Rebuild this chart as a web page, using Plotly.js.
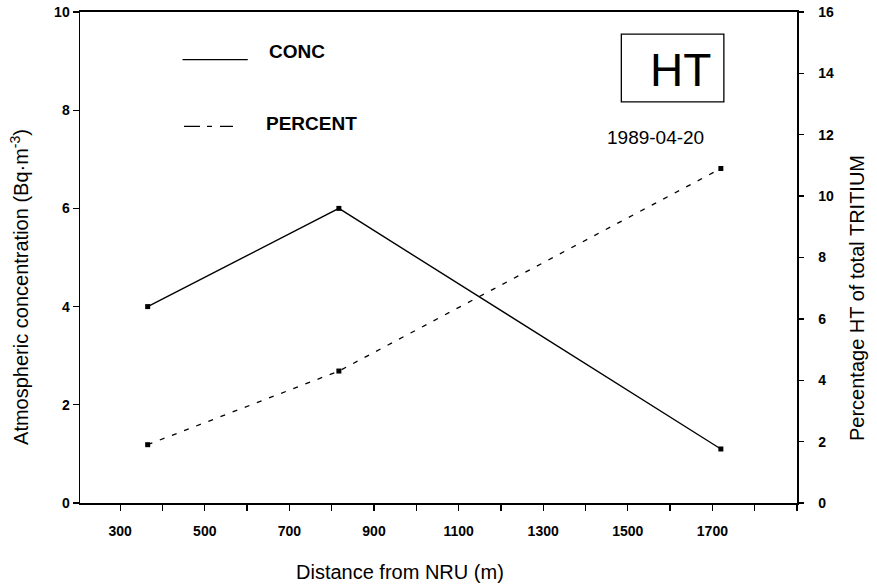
<!DOCTYPE html>
<html>
<head>
<meta charset="utf-8">
<script src="https://cdn.plot.ly/plotly-3.0.1.min.js"></script>
<style>
  html, body { margin: 0; padding: 0; background: #fff; }
  #chart { width: 877px; height: 587px; }
</style>
</head>
<body>
<div id="chart"></div>
<script>
// Sampling distances from NRU (m)
const distance = [365, 817, 1720];
// HT atmospheric concentration (Bq·m-3)
const conc = [4.0, 6.0, 1.1];
// HT as a percentage of total tritium
const percent = [1.9, 4.3, 10.9];

const xTicks = [300, 500, 700, 900, 1100, 1300, 1500, 1700];
const yTicks = [0, 2, 4, 6, 8, 10];
const y2Ticks = [0, 2, 4, 6, 8, 10, 12, 14, 16];

const bold = vals => vals.map(v => '<b>' + v + '</b>');
const font = 'Liberation Sans, Arial, Helvetica, sans-serif';

const traces = [
  {
    x: distance, y: conc, name: 'CONC', type: 'scatter', mode: 'lines+markers',
    line: { color: '#000', width: 1.4 },
    marker: { symbol: 'square', size: 5, color: '#000' },
    yaxis: 'y'
  },
  {
    x: distance, y: percent, name: 'PERCENT', type: 'scatter', mode: 'lines+markers',
    line: { color: '#000', width: 1.3, dash: '5px,8px' },
    marker: { symbol: 'square', size: 5, color: '#000' },
    yaxis: 'y2'
  }
];

const layout = {
  width: 877, height: 587,
  margin: { l: 80, r: 80, t: 12, b: 84 },
  paper_bgcolor: '#fff', plot_bgcolor: '#fff',
  showlegend: false,
  font: { family: font, color: '#000' },
  xaxis: {
    range: [205, 1900],
    tickvals: xTicks, ticktext: bold(xTicks),
    ticks: 'outside', ticklen: 6, tickwidth: 1.3, tickcolor: '#000',
    minor: { tick0: 300, dtick: 100, ticks: 'outside', ticklen: 6, tickwidth: 1.3, tickcolor: '#000', showgrid: false },
    ticklabelstandoff: 8,
    tickfont: { size: 14, family: font },
    showline: true, linecolor: '#000', linewidth: 2, mirror: true,
    showgrid: false, zeroline: false
  },
  yaxis: {
    range: [0, 10],
    tickvals: yTicks, ticktext: bold(yTicks),
    ticks: 'outside', ticklen: 6, tickwidth: 1.3, tickcolor: '#000',
    tickfont: { size: 14, family: font },
    showline: true, linecolor: '#000', linewidth: 1.5,
    showgrid: false, zeroline: false
  },
  yaxis2: {
    range: [0, 16], overlaying: 'y', side: 'right',
    tickvals: y2Ticks, ticktext: bold(y2Ticks),
    ticks: 'outside', ticklen: 5, tickwidth: 1.3, tickcolor: '#000',
    ticklabelstandoff: 12,
    tickfont: { size: 14, family: font },
    showline: true, linecolor: '#000', linewidth: 1.5,
    showgrid: false, zeroline: false
  },
  shapes: [
    // key samples
    { type: 'line', xref: 'paper', yref: 'paper', x0: 0.143, x1: 0.234, y0: 0.903, y1: 0.903,
      line: { color: '#000', width: 1.4 } },
    { type: 'line', xref: 'paper', yref: 'paper', x0: 0.145, x1: 0.216, y0: 0.767, y1: 0.767,
      line: { color: '#000', width: 1.3, dash: '16px,7px,5px,8px,13px,40px' } },
    // label frame
    { type: 'rect', xref: 'paper', yref: 'paper', x0: 0.755, x1: 0.898, y0: 0.817, y1: 0.955,
      line: { color: '#000', width: 1.3 } }
  ],
  annotations: [
    // axis titles
    { xref: 'paper', yref: 'paper', x: 0.446, y: -0.1405, xanchor: 'center', yanchor: 'middle',
      text: 'Distance from NRU (m)', showarrow: false, font: { size: 20, family: font } },
    { xref: 'paper', yref: 'paper', x: -0.0837, y: 0.44, xanchor: 'center', yanchor: 'middle',
      textangle: -90, text: 'Atmospheric concentration (Bq·m<sup>-3</sup>)', showarrow: false,
      font: { size: 20, family: font } },
    { xref: 'paper', yref: 'paper', x: 1.0837, y: 0.4175, xanchor: 'center', yanchor: 'middle',
      textangle: -90, text: 'Percentage HT of total TRITIUM', showarrow: false,
      font: { size: 20, family: font } },
    // key labels
    { xref: 'paper', yref: 'paper', x: 0.261, y: 0.919, xanchor: 'left', yanchor: 'middle',
      text: '<b>CONC</b>', showarrow: false, font: { size: 19, family: font } },
    { xref: 'paper', yref: 'paper', x: 0.257, y: 0.772, xanchor: 'left', yanchor: 'middle',
      text: '<b>PERCENT</b>', showarrow: false, font: { size: 19, family: font } },
    // species and sampling date
    { xref: 'paper', yref: 'paper', x: 0.837, y: 0.881, xanchor: 'center', yanchor: 'middle',
      text: 'HT', showarrow: false, font: { size: 46, family: font } },
    { xref: 'paper', yref: 'paper', x: 0.802, y: 0.745, xanchor: 'center', yanchor: 'middle',
      text: '1989-04-20', showarrow: false, font: { size: 19, family: font } }
  ]
};

Plotly.newPlot('chart', traces, layout, { staticPlot: true, displayModeBar: false });
</script>
</body>
</html>
